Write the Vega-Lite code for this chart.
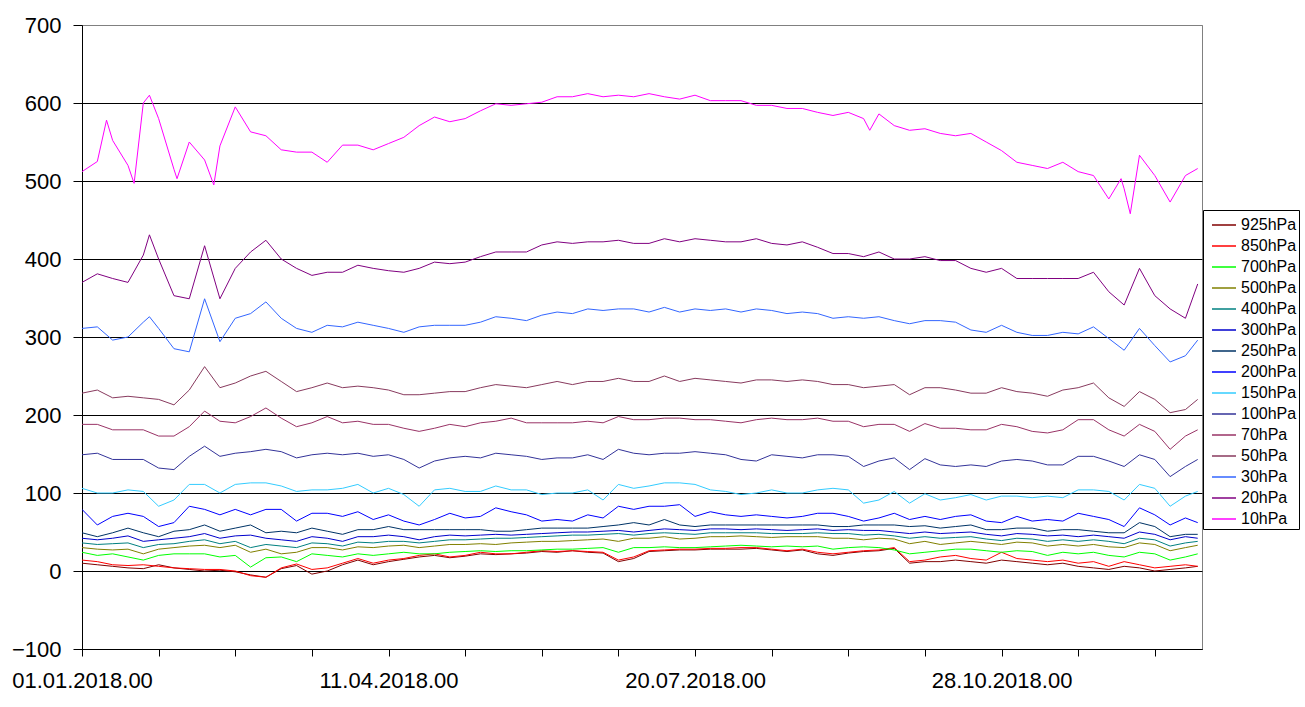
{
  "$schema": "https://vega.github.io/schema/vega-lite/v6.json",
  "width": 1120,
  "height": 624,
  "autosize": "none",
  "padding": {"left": 82, "top": 25, "right": 103, "bottom": 58},
  "background": "white",
  "config": {
    "view": {"stroke": "#808080", "strokeWidth": 1},
    "font": "Liberation Sans"
  },
  "data": {
    "values": [
      {"t": 0, "925hPa": 10, "850hPa": 14, "700hPa": 24, "500hPa": 30, "400hPa": 36, "300hPa": 42, "250hPa": 49, "200hPa": 79, "150hPa": 106, "100hPa": 149, "70hPa": 188, "50hPa": 228, "30hPa": 311, "20hPa": 370, "10hPa": 512},
      {"t": 5, "925hPa": 8, "850hPa": 12, "700hPa": 20, "500hPa": 28, "400hPa": 34, "300hPa": 40, "250hPa": 44, "200hPa": 59, "150hPa": 100, "100hPa": 151, "70hPa": 188, "50hPa": 232, "30hPa": 313, "20hPa": 381, "10hPa": 525},
      {"t": 8, "10hPa": 578},
      {"t": 10, "925hPa": 6, "850hPa": 8, "700hPa": 22, "500hPa": 27, "400hPa": 35, "300hPa": 42, "250hPa": 49, "200hPa": 70, "150hPa": 100, "100hPa": 143, "70hPa": 181, "50hPa": 222, "30hPa": 296, "20hPa": 375, "10hPa": 552},
      {"t": 15, "925hPa": 4, "850hPa": 7, "700hPa": 18, "500hPa": 28, "400hPa": 36, "300hPa": 45, "250hPa": 55, "200hPa": 74, "150hPa": 104, "100hPa": 143, "70hPa": 181, "50hPa": 224, "30hPa": 300, "20hPa": 370, "10hPa": 520},
      {"t": 17, "10hPa": 497},
      {"t": 20, "925hPa": 3, "850hPa": 8, "700hPa": 14, "500hPa": 22, "400hPa": 30, "300hPa": 38, "250hPa": 49, "200hPa": 70, "150hPa": 102, "100hPa": 143, "70hPa": 181, "50hPa": 222, "30hPa": 319, "20hPa": 405, "10hPa": 600},
      {"t": 22, "30hPa": 326, "20hPa": 431, "10hPa": 610},
      {"t": 25, "925hPa": 8, "850hPa": 6, "700hPa": 20, "500hPa": 28, "400hPa": 34, "300hPa": 40, "250hPa": 44, "200hPa": 57, "150hPa": 83, "100hPa": 132, "70hPa": 173, "50hPa": 220, "30hPa": 311, "20hPa": 400, "10hPa": 580},
      {"t": 30, "925hPa": 4, "850hPa": 4, "700hPa": 22, "500hPa": 30, "400hPa": 35, "300hPa": 42, "250hPa": 51, "200hPa": 62, "150hPa": 91, "100hPa": 130, "70hPa": 173, "50hPa": 213, "30hPa": 285, "20hPa": 353, "10hPa": 515},
      {"t": 31, "10hPa": 503},
      {"t": 35, "925hPa": 2, "850hPa": 3, "700hPa": 22, "500hPa": 32, "400hPa": 38, "300hPa": 44, "250hPa": 53, "200hPa": 83, "150hPa": 111, "100hPa": 147, "70hPa": 185, "50hPa": 232, "30hPa": 281, "20hPa": 349, "10hPa": 550},
      {"t": 40, "925hPa": 0, "850hPa": 2, "700hPa": 22, "500hPa": 33, "400hPa": 40, "300hPa": 48, "250hPa": 59, "200hPa": 79, "150hPa": 111, "100hPa": 160, "70hPa": 205, "50hPa": 262, "30hPa": 349, "20hPa": 417, "10hPa": 527},
      {"t": 43, "10hPa": 495},
      {"t": 45, "925hPa": 1, "850hPa": 2, "700hPa": 18, "500hPa": 30, "400hPa": 35, "300hPa": 42, "250hPa": 51, "200hPa": 72, "150hPa": 100, "100hPa": 147, "70hPa": 192, "50hPa": 235, "30hPa": 294, "20hPa": 349, "10hPa": 545},
      {"t": 50, "925hPa": -1, "850hPa": 0, "700hPa": 20, "500hPa": 33, "400hPa": 38, "300hPa": 45, "250hPa": 55, "200hPa": 79, "150hPa": 111, "100hPa": 151, "70hPa": 190, "50hPa": 241, "30hPa": 324, "20hPa": 388, "10hPa": 595},
      {"t": 55, "925hPa": -5, "850hPa": -6, "700hPa": 5, "500hPa": 24, "400hPa": 30, "300hPa": 46, "250hPa": 59, "200hPa": 72, "150hPa": 113, "100hPa": 153, "70hPa": 198, "50hPa": 250, "30hPa": 330, "20hPa": 409, "10hPa": 563},
      {"t": 60, "925hPa": -8, "850hPa": -8, "700hPa": 17, "500hPa": 28, "400hPa": 34, "300hPa": 42, "250hPa": 49, "200hPa": 79, "150hPa": 113, "100hPa": 156, "70hPa": 209, "50hPa": 256, "30hPa": 345, "20hPa": 424, "10hPa": 558},
      {"t": 65, "925hPa": 3, "850hPa": 4, "700hPa": 18, "500hPa": 22, "400hPa": 32, "300hPa": 40, "250hPa": 51, "200hPa": 79, "150hPa": 109, "100hPa": 153, "70hPa": 196, "50hPa": 243, "30hPa": 324, "20hPa": 400, "10hPa": 540},
      {"t": 70, "925hPa": 7, "850hPa": 9, "700hPa": 12, "500hPa": 24, "400hPa": 30, "300hPa": 38, "250hPa": 49, "200hPa": 64, "150hPa": 102, "100hPa": 145, "70hPa": 185, "50hPa": 230, "30hPa": 311, "20hPa": 388, "10hPa": 537},
      {"t": 75, "925hPa": -4, "850hPa": 2, "700hPa": 22, "500hPa": 30, "400hPa": 36, "300hPa": 44, "250hPa": 55, "200hPa": 74, "150hPa": 104, "100hPa": 149, "70hPa": 190, "50hPa": 235, "30hPa": 306, "20hPa": 379, "10hPa": 537},
      {"t": 80, "925hPa": 0, "850hPa": 4, "700hPa": 20, "500hPa": 30, "400hPa": 35, "300hPa": 42, "250hPa": 51, "200hPa": 74, "150hPa": 104, "100hPa": 151, "70hPa": 198, "50hPa": 241, "30hPa": 315, "20hPa": 383, "10hPa": 524},
      {"t": 85, "925hPa": 8, "850hPa": 10, "700hPa": 18, "500hPa": 27, "400hPa": 32, "300hPa": 38, "250hPa": 47, "200hPa": 70, "150hPa": 106, "100hPa": 149, "70hPa": 190, "50hPa": 235, "30hPa": 313, "20hPa": 383, "10hPa": 546},
      {"t": 90, "925hPa": 14, "850hPa": 16, "700hPa": 22, "500hPa": 31, "400hPa": 37, "300hPa": 44, "250hPa": 53, "200hPa": 76, "150hPa": 111, "100hPa": 151, "70hPa": 192, "50hPa": 237, "30hPa": 319, "20hPa": 392, "10hPa": 546},
      {"t": 95, "925hPa": 8, "850hPa": 10, "700hPa": 20, "500hPa": 30, "400hPa": 36, "300hPa": 44, "250hPa": 53, "200hPa": 66, "150hPa": 100, "100hPa": 147, "70hPa": 188, "50hPa": 235, "30hPa": 315, "20hPa": 388, "10hPa": 540},
      {"t": 100, "925hPa": 12, "850hPa": 14, "700hPa": 22, "500hPa": 32, "400hPa": 38, "300hPa": 46, "250hPa": 57, "200hPa": 72, "150hPa": 106, "100hPa": 149, "70hPa": 188, "50hPa": 232, "30hPa": 311, "20hPa": 385, "10hPa": 548},
      {"t": 105, "925hPa": 15, "850hPa": 16, "700hPa": 24, "500hPa": 33, "400hPa": 38, "300hPa": 44, "250hPa": 53, "200hPa": 64, "150hPa": 98, "100hPa": 143, "70hPa": 183, "50hPa": 226, "30hPa": 306, "20hPa": 383, "10hPa": 556},
      {"t": 110, "925hPa": 18, "850hPa": 20, "700hPa": 22, "500hPa": 30, "400hPa": 36, "300hPa": 40, "250hPa": 53, "200hPa": 59, "150hPa": 83, "100hPa": 132, "70hPa": 179, "50hPa": 226, "30hPa": 313, "20hPa": 388, "10hPa": 571},
      {"t": 115, "925hPa": 20, "850hPa": 22, "700hPa": 22, "500hPa": 32, "400hPa": 38, "300hPa": 44, "250hPa": 53, "200hPa": 66, "150hPa": 104, "100hPa": 141, "70hPa": 183, "50hPa": 228, "30hPa": 315, "20hPa": 396, "10hPa": 582},
      {"t": 120, "925hPa": 17, "850hPa": 18, "700hPa": 24, "500hPa": 34, "400hPa": 40, "300hPa": 46, "250hPa": 53, "200hPa": 74, "150hPa": 106, "100hPa": 145, "70hPa": 188, "50hPa": 230, "30hPa": 315, "20hPa": 394, "10hPa": 576},
      {"t": 125, "925hPa": 19, "850hPa": 20, "700hPa": 25, "500hPa": 34, "400hPa": 40, "300hPa": 45, "250hPa": 53, "200hPa": 68, "150hPa": 102, "100hPa": 147, "70hPa": 185, "50hPa": 230, "30hPa": 315, "20hPa": 396, "10hPa": 580},
      {"t": 130, "925hPa": 22, "850hPa": 24, "700hPa": 26, "500hPa": 35, "400hPa": 41, "300hPa": 46, "250hPa": 53, "200hPa": 70, "150hPa": 102, "100hPa": 145, "70hPa": 190, "50hPa": 235, "30hPa": 319, "20hPa": 403, "10hPa": 590},
      {"t": 135, "925hPa": 21, "850hPa": 22, "700hPa": 25, "500hPa": 34, "400hPa": 42, "300hPa": 47, "250hPa": 51, "200hPa": 81, "150hPa": 109, "100hPa": 151, "70hPa": 192, "50hPa": 239, "30hPa": 326, "20hPa": 409, "10hPa": 599},
      {"t": 140, "925hPa": 22, "850hPa": 22, "700hPa": 26, "500hPa": 36, "400hPa": 42, "300hPa": 46, "250hPa": 51, "200hPa": 76, "150hPa": 104, "100hPa": 149, "70hPa": 196, "50hPa": 237, "30hPa": 324, "20hPa": 409, "10hPa": 597},
      {"t": 145, "925hPa": 23, "850hPa": 24, "700hPa": 26, "500hPa": 37, "400hPa": 43, "300hPa": 47, "250hPa": 53, "200hPa": 72, "150hPa": 104, "100hPa": 147, "70hPa": 190, "50hPa": 235, "30hPa": 321, "20hPa": 409, "10hPa": 599},
      {"t": 150, "925hPa": 25, "850hPa": 26, "700hPa": 27, "500hPa": 38, "400hPa": 44, "300hPa": 48, "250hPa": 55, "200hPa": 64, "150hPa": 98, "100hPa": 143, "70hPa": 190, "50hPa": 239, "30hPa": 328, "20hPa": 418, "10hPa": 601},
      {"t": 155, "925hPa": 24, "850hPa": 25, "700hPa": 28, "500hPa": 38, "400hPa": 45, "300hPa": 49, "250hPa": 55, "200hPa": 66, "150hPa": 100, "100hPa": 145, "70hPa": 190, "50hPa": 243, "30hPa": 332, "20hPa": 422, "10hPa": 608},
      {"t": 160, "925hPa": 26, "850hPa": 26, "700hPa": 28, "500hPa": 39, "400hPa": 46, "300hPa": 50, "250hPa": 55, "200hPa": 64, "150hPa": 100, "100hPa": 145, "70hPa": 190, "50hPa": 239, "30hPa": 330, "20hPa": 420, "10hPa": 608},
      {"t": 165, "925hPa": 24, "850hPa": 25, "700hPa": 29, "500hPa": 40, "400hPa": 46, "300hPa": 50, "250hPa": 55, "200hPa": 72, "150hPa": 104, "100hPa": 149, "70hPa": 192, "50hPa": 243, "30hPa": 336, "20hPa": 422, "10hPa": 612},
      {"t": 170, "925hPa": 23, "850hPa": 24, "700hPa": 30, "500hPa": 41, "400hPa": 47, "300hPa": 51, "250hPa": 57, "200hPa": 68, "150hPa": 91, "100hPa": 143, "70hPa": 190, "50hPa": 243, "30hPa": 334, "20hPa": 422, "10hPa": 608},
      {"t": 175, "925hPa": 12, "850hPa": 14, "700hPa": 24, "500hPa": 38, "400hPa": 48, "300hPa": 52, "250hPa": 59, "200hPa": 83, "150hPa": 111, "100hPa": 156, "70hPa": 198, "50hPa": 247, "30hPa": 336, "20hPa": 424, "10hPa": 610},
      {"t": 180, "925hPa": 16, "850hPa": 18, "700hPa": 30, "500hPa": 42, "400hPa": 46, "300hPa": 50, "250hPa": 62, "200hPa": 79, "150hPa": 106, "100hPa": 151, "70hPa": 194, "50hPa": 243, "30hPa": 336, "20hPa": 420, "10hPa": 608},
      {"t": 185, "925hPa": 25, "850hPa": 26, "700hPa": 30, "500hPa": 42, "400hPa": 48, "300hPa": 52, "250hPa": 59, "200hPa": 83, "150hPa": 109, "100hPa": 149, "70hPa": 194, "50hPa": 243, "30hPa": 332, "20hPa": 420, "10hPa": 612},
      {"t": 190, "925hPa": 26, "850hPa": 27, "700hPa": 31, "500hPa": 44, "400hPa": 49, "300hPa": 54, "250hPa": 66, "200hPa": 83, "150hPa": 113, "100hPa": 151, "70hPa": 196, "50hPa": 250, "30hPa": 338, "20hPa": 426, "10hPa": 608},
      {"t": 195, "925hPa": 27, "850hPa": 28, "700hPa": 30, "500hPa": 41, "400hPa": 48, "300hPa": 53, "250hPa": 59, "200hPa": 85, "150hPa": 113, "100hPa": 151, "70hPa": 196, "50hPa": 243, "30hPa": 332, "20hPa": 422, "10hPa": 605},
      {"t": 200, "925hPa": 27, "850hPa": 28, "700hPa": 30, "500hPa": 42, "400hPa": 47, "300hPa": 52, "250hPa": 57, "200hPa": 70, "150hPa": 111, "100hPa": 153, "70hPa": 194, "50hPa": 247, "30hPa": 336, "20hPa": 426, "10hPa": 610},
      {"t": 205, "925hPa": 28, "850hPa": 29, "700hPa": 31, "500hPa": 44, "400hPa": 49, "300hPa": 54, "250hPa": 59, "200hPa": 76, "150hPa": 104, "100hPa": 151, "70hPa": 194, "50hPa": 245, "30hPa": 334, "20hPa": 424, "10hPa": 603},
      {"t": 210, "925hPa": 28, "850hPa": 29, "700hPa": 32, "500hPa": 44, "400hPa": 49, "300hPa": 54, "250hPa": 59, "200hPa": 72, "150hPa": 102, "100hPa": 149, "70hPa": 192, "50hPa": 243, "30hPa": 336, "20hPa": 422, "10hPa": 603},
      {"t": 215, "925hPa": 28, "850hPa": 30, "700hPa": 33, "500hPa": 45, "400hPa": 49, "300hPa": 53, "250hPa": 59, "200hPa": 70, "150hPa": 98, "100hPa": 143, "70hPa": 190, "50hPa": 241, "30hPa": 332, "20hPa": 422, "10hPa": 603},
      {"t": 220, "925hPa": 29, "850hPa": 30, "700hPa": 32, "500hPa": 44, "400hPa": 49, "300hPa": 54, "250hPa": 59, "200hPa": 72, "150hPa": 100, "100hPa": 141, "70hPa": 194, "50hPa": 245, "30hPa": 336, "20hPa": 426, "10hPa": 597},
      {"t": 225, "925hPa": 27, "850hPa": 28, "700hPa": 31, "500hPa": 43, "400hPa": 48, "300hPa": 53, "250hPa": 59, "200hPa": 70, "150hPa": 104, "100hPa": 149, "70hPa": 196, "50hPa": 245, "30hPa": 334, "20hPa": 420, "10hPa": 597},
      {"t": 230, "925hPa": 25, "850hPa": 26, "700hPa": 32, "500hPa": 44, "400hPa": 48, "300hPa": 52, "250hPa": 59, "200hPa": 68, "150hPa": 100, "100hPa": 147, "70hPa": 194, "50hPa": 243, "30hPa": 330, "20hPa": 418, "10hPa": 593},
      {"t": 235, "925hPa": 27, "850hPa": 28, "700hPa": 31, "500hPa": 44, "400hPa": 48, "300hPa": 53, "250hPa": 59, "200hPa": 70, "150hPa": 100, "100hPa": 145, "70hPa": 194, "50hPa": 245, "30hPa": 332, "20hPa": 422, "10hPa": 593},
      {"t": 240, "925hPa": 22, "850hPa": 24, "700hPa": 32, "500hPa": 44, "400hPa": 49, "300hPa": 54, "250hPa": 59, "200hPa": 74, "150hPa": 104, "100hPa": 149, "70hPa": 196, "50hPa": 243, "30hPa": 330, "20hPa": 415, "10hPa": 588},
      {"t": 245, "925hPa": 20, "850hPa": 22, "700hPa": 28, "500hPa": 42, "400hPa": 48, "300hPa": 52, "250hPa": 57, "200hPa": 74, "150hPa": 106, "100hPa": 149, "70hPa": 192, "50hPa": 239, "30hPa": 324, "20hPa": 407, "10hPa": 584},
      {"t": 250, "925hPa": 23, "850hPa": 24, "700hPa": 30, "500hPa": 42, "400hPa": 48, "300hPa": 53, "250hPa": 57, "200hPa": 70, "150hPa": 104, "100hPa": 147, "70hPa": 192, "50hPa": 239, "30hPa": 326, "20hPa": 407, "10hPa": 588},
      {"t": 255, "925hPa": 25, "850hPa": 26, "700hPa": 31, "500hPa": 40, "400hPa": 46, "300hPa": 52, "250hPa": 59, "200hPa": 64, "150hPa": 87, "100hPa": 134, "70hPa": 185, "50hPa": 235, "30hPa": 324, "20hPa": 403, "10hPa": 580},
      {"t": 257, "10hPa": 565},
      {"t": 260, "925hPa": 26, "850hPa": 27, "700hPa": 30, "500hPa": 42, "400hPa": 47, "300hPa": 52, "250hPa": 59, "200hPa": 68, "150hPa": 91, "100hPa": 141, "70hPa": 188, "50hPa": 237, "30hPa": 326, "20hPa": 409, "10hPa": 586},
      {"t": 265, "925hPa": 29, "850hPa": 30, "700hPa": 27, "500hPa": 41, "400hPa": 45, "300hPa": 50, "250hPa": 59, "200hPa": 74, "150hPa": 102, "100hPa": 145, "70hPa": 188, "50hPa": 239, "30hPa": 321, "20hPa": 400, "10hPa": 571},
      {"t": 270, "925hPa": 10, "850hPa": 12, "700hPa": 22, "500hPa": 35, "400hPa": 42, "300hPa": 48, "250hPa": 57, "200hPa": 66, "150hPa": 87, "100hPa": 130, "70hPa": 179, "50hPa": 226, "30hPa": 317, "20hPa": 400, "10hPa": 565},
      {"t": 275, "925hPa": 12, "850hPa": 14, "700hPa": 24, "500hPa": 38, "400hPa": 44, "300hPa": 50, "250hPa": 58, "200hPa": 70, "150hPa": 99, "100hPa": 144, "70hPa": 189, "50hPa": 235, "30hPa": 321, "20hPa": 403, "10hPa": 567},
      {"t": 280, "925hPa": 12, "850hPa": 18, "700hPa": 26, "500hPa": 34, "400hPa": 42, "300hPa": 48, "250hPa": 55, "200hPa": 66, "150hPa": 91, "100hPa": 136, "70hPa": 183, "50hPa": 235, "30hPa": 321, "20hPa": 398, "10hPa": 561},
      {"t": 285, "925hPa": 14, "850hPa": 20, "700hPa": 28, "500hPa": 36, "400hPa": 43, "300hPa": 49, "250hPa": 57, "200hPa": 70, "150hPa": 94, "100hPa": 134, "70hPa": 183, "50hPa": 232, "30hPa": 319, "20hPa": 398, "10hPa": 558},
      {"t": 290, "925hPa": 12, "850hPa": 16, "700hPa": 28, "500hPa": 38, "400hPa": 44, "300hPa": 50, "250hPa": 59, "200hPa": 72, "150hPa": 98, "100hPa": 136, "70hPa": 181, "50hPa": 228, "30hPa": 309, "20hPa": 388, "10hPa": 561},
      {"t": 295, "925hPa": 10, "850hPa": 14, "700hPa": 26, "500hPa": 36, "400hPa": 41, "300hPa": 47, "250hPa": 53, "200hPa": 64, "150hPa": 91, "100hPa": 134, "70hPa": 181, "50hPa": 228, "30hPa": 306, "20hPa": 383, "10hPa": 550},
      {"t": 300, "925hPa": 14, "850hPa": 24, "700hPa": 24, "500hPa": 34, "400hPa": 39, "300hPa": 45, "250hPa": 53, "200hPa": 62, "150hPa": 96, "100hPa": 141, "70hPa": 188, "50hPa": 235, "30hPa": 315, "20hPa": 388, "10hPa": 539},
      {"t": 305, "925hPa": 12, "850hPa": 16, "700hPa": 26, "500hPa": 37, "400hPa": 42, "300hPa": 48, "250hPa": 55, "200hPa": 70, "150hPa": 96, "100hPa": 143, "70hPa": 185, "50hPa": 230, "30hPa": 306, "20hPa": 375, "10hPa": 524},
      {"t": 310, "925hPa": 10, "850hPa": 14, "700hPa": 25, "500hPa": 36, "400hPa": 41, "300hPa": 47, "250hPa": 55, "200hPa": 64, "150hPa": 94, "100hPa": 141, "70hPa": 179, "50hPa": 228, "30hPa": 302, "20hPa": 375, "10hPa": 520},
      {"t": 315, "925hPa": 8, "850hPa": 12, "700hPa": 20, "500hPa": 32, "400hPa": 38, "300hPa": 45, "250hPa": 51, "200hPa": 66, "150hPa": 96, "100hPa": 136, "70hPa": 177, "50hPa": 224, "30hPa": 302, "20hPa": 375, "10hPa": 516},
      {"t": 320, "925hPa": 10, "850hPa": 14, "700hPa": 24, "500hPa": 34, "400hPa": 40, "300hPa": 46, "250hPa": 53, "200hPa": 64, "150hPa": 94, "100hPa": 136, "70hPa": 181, "50hPa": 232, "30hPa": 306, "20hPa": 375, "10hPa": 524},
      {"t": 325, "925hPa": 6, "850hPa": 10, "700hPa": 22, "500hPa": 32, "400hPa": 38, "300hPa": 44, "250hPa": 53, "200hPa": 74, "150hPa": 104, "100hPa": 147, "70hPa": 194, "50hPa": 235, "30hPa": 304, "20hPa": 375, "10hPa": 512},
      {"t": 330, "925hPa": 4, "850hPa": 12, "700hPa": 24, "500hPa": 34, "400hPa": 40, "300hPa": 46, "250hPa": 51, "200hPa": 70, "150hPa": 104, "100hPa": 147, "70hPa": 194, "50hPa": 241, "30hPa": 313, "20hPa": 383, "10hPa": 507},
      {"t": 335, "925hPa": 2, "850hPa": 6, "700hPa": 20, "500hPa": 31, "400hPa": 38, "300hPa": 44, "250hPa": 49, "200hPa": 66, "150hPa": 102, "100hPa": 141, "70hPa": 181, "50hPa": 222, "30hPa": 298, "20hPa": 358, "10hPa": 477},
      {"t": 339, "10hPa": 503},
      {"t": 340, "925hPa": 6, "850hPa": 12, "700hPa": 18, "500hPa": 30, "400hPa": 35, "300hPa": 42, "250hPa": 49, "200hPa": 57, "150hPa": 91, "100hPa": 134, "70hPa": 173, "50hPa": 211, "30hPa": 283, "20hPa": 341, "10hPa": 490},
      {"t": 342, "10hPa": 458},
      {"t": 345, "925hPa": 4, "850hPa": 8, "700hPa": 24, "500hPa": 36, "400hPa": 42, "300hPa": 50, "250hPa": 62, "200hPa": 81, "150hPa": 111, "100hPa": 149, "70hPa": 188, "50hPa": 230, "30hPa": 311, "20hPa": 388, "10hPa": 533},
      {"t": 350, "925hPa": 0, "850hPa": 4, "700hPa": 22, "500hPa": 34, "400hPa": 40, "300hPa": 47, "250hPa": 57, "200hPa": 72, "150hPa": 106, "100hPa": 143, "70hPa": 179, "50hPa": 220, "30hPa": 289, "20hPa": 353, "10hPa": 507},
      {"t": 355, "925hPa": 2, "850hPa": 6, "700hPa": 14, "500hPa": 26, "400hPa": 32, "300hPa": 40, "250hPa": 44, "200hPa": 59, "150hPa": 83, "100hPa": 121, "70hPa": 156, "50hPa": 203, "30hPa": 268, "20hPa": 336, "10hPa": 473},
      {"t": 360, "925hPa": 4, "850hPa": 8, "700hPa": 18, "500hPa": 30, "400hPa": 36, "300hPa": 44, "250hPa": 47, "200hPa": 68, "150hPa": 96, "100hPa": 134, "70hPa": 173, "50hPa": 207, "30hPa": 276, "20hPa": 324, "10hPa": 507},
      {"t": 364, "925hPa": 6, "850hPa": 6, "700hPa": 22, "500hPa": 33, "400hPa": 38, "300hPa": 42, "250hPa": 47, "200hPa": 62, "150hPa": 102, "100hPa": 143, "70hPa": 181, "50hPa": 220, "30hPa": 296, "20hPa": 368, "10hPa": 516}
    ]
  },
  "transform": [
    {"fold": ["925hPa", "850hPa", "700hPa", "500hPa", "400hPa", "300hPa", "250hPa", "200hPa", "150hPa", "100hPa", "70hPa", "50hPa", "30hPa", "20hPa", "10hPa"], "as": ["level", "value"]},
    {"filter": "isValid(datum.value)"}
  ],
  "mark": {"type": "line", "strokeWidth": 1, "clip": true},
  "encoding": {
    "x": {
      "field": "t",
      "type": "quantitative",
      "scale": {"domain": [0, 365.4], "nice": false, "zero": false},
      "axis": {
        "title": null,
        "grid": false,
        "values": [0, 25, 50, 75, 100, 125, 150, 175, 200, 225, 250, 275, 300, 325, 350],
        "labelExpr": "datum.value % 100 == 0 ? utcFormat(utc(2018, 0, 1 + datum.value), '%d.%m.%Y.00') : ''",
        "domainColor": "black",
        "tickColor": "black",
        "tickSize": 7,
        "labelFontSize": 22,
        "labelFont": "Liberation Sans",
        "labelColor": "black",
        "labelPadding": 14,
        "labelFlush": false,
        "labelOverlap": false
      }
    },
    "y": {
      "field": "value",
      "type": "quantitative",
      "scale": {"domain": [-100, 700], "nice": false},
      "axis": {
        "title": null,
        "values": [-100, 0, 100, 200, 300, 400, 500, 600, 700],
        "grid": true,
        "gridColor": {"condition": {"test": "datum.value == 700", "value": "#808080"}, "value": "black"},
        "gridOpacity": 1,
        "domainColor": "black",
        "tickColor": "black",
        "tickSize": 9,
        "labelPadding": 12,
        "labelFontSize": 22,
        "labelFont": "Liberation Sans",
        "labelColor": "black"
      }
    },
    "color": {
      "field": "level",
      "type": "nominal",
      "scale": {
        "domain": ["925hPa", "850hPa", "700hPa", "500hPa", "400hPa", "300hPa", "250hPa", "200hPa", "150hPa", "100hPa", "70hPa", "50hPa", "30hPa", "20hPa", "10hPa"],
        "range": ["#800000", "#FF0000", "#00FF00", "#808000", "#008080", "#0000CC", "#003366", "#0000FF", "#33CCFF", "#333399", "#993366", "#883A5E", "#3366FF", "#800080", "#FF00FF"]
      },
      "legend": {
        "title": null,
        "orient": "none",
        "legendX": 1121,
        "legendY": 185,
        "strokeColor": "black",
        "fillColor": "white",
        "padding": 2,
        "symbolType": "stroke",
        "symbolSize": 576,
        "symbolStrokeWidth": 1.5,
        "symbolOffset": 6,
        "labelFontSize": 16,
        "labelFont": "Liberation Sans",
        "labelColor": "black",
        "labelOffset": 4,
        "rowPadding": -0.6,
        "labelLimit": 200
      }
    }
  }
}
